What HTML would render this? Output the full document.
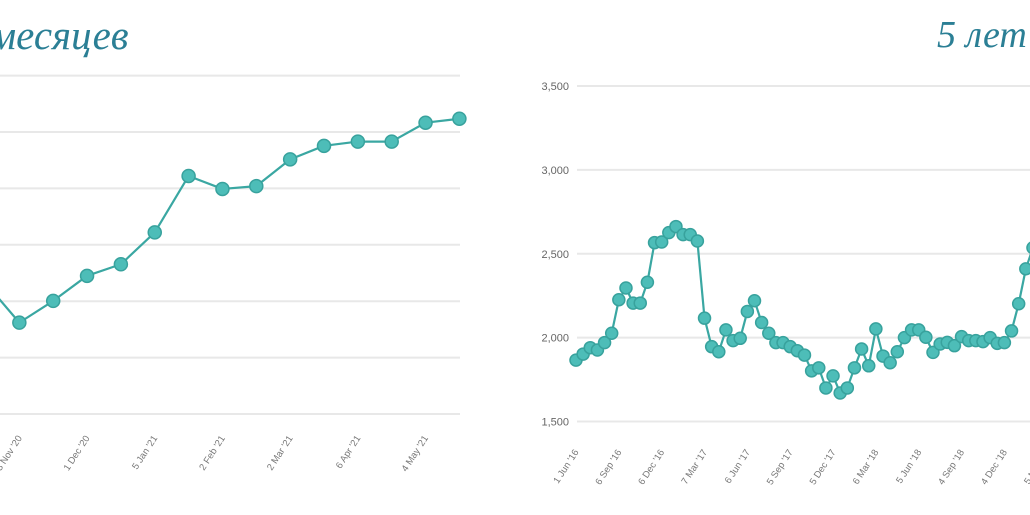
<!DOCTYPE html>
<html><head><meta charset="utf-8"><style>
html,body{margin:0;padding:0;background:#fff;width:1030px;height:515px;overflow:hidden}
svg{display:block}
.title{font-family:"Liberation Serif",serif;font-style:italic;fill:#2b7f95;font-size:38px}
.tick{font-family:"Liberation Sans",sans-serif;font-size:9.5px;fill:#777}
.ytick{font-family:"Liberation Sans",sans-serif;font-size:11px;fill:#666}
</style></head><body>
<svg id="chart" width="1030" height="515">
<text class="title" x="-10" y="49" style="font-size:41px">месяцев</text>
<text class="title" x="937" y="47">5 лет</text>
</svg>
<script>
// Left chart data (6-month view)
const leftValues = [465, 324, 401, 490, 531, 644, 844, 798, 808, 903, 951, 966, 966, 1033, 1047];
const leftLabels = ["", "3 Nov '20", "", "1 Dec '20", "", "5 Jan '21", "", "2 Feb '21", "", "2 Mar '21", "", "6 Apr '21", "", "4 May '21", ""];
const leftTicks = [0, 200, 400, 600, 800, 1000, 1200];
// Right chart data (5-year view)
const rightValues = [1866,1902,1940,1926,1970,2026,2226,2296,2206,2206,2330,2566,2570,2626,2662,2614,2614,2576,2116,1946,1916,2046,1982,1996,2156,2220,2090,2026,1970,1970,1946,1922,1896,1802,1820,1700,1772,1670,1700,1820,1932,1832,2052,1890,1850,1916,2000,2046,2046,2002,1912,1962,1972,1952,2006,1982,1982,1976,2000,1966,1970,2040,2202,2410,2536];
const rightLabels = ["1 Jun '16","6 Sep '16","6 Dec '16","7 Mar '17","6 Jun '17","5 Sep '17","5 Dec '17","6 Mar '18","5 Jun '18","4 Sep '18","4 Dec '18","5 Mar '19"];
const rightTicks = [1500, 2000, 2500, 3000, 3500];

const NS = "http://www.w3.org/2000/svg";
const svg = document.getElementById('chart');
function mk(tag, attrs){const e=document.createElementNS(NS,tag);for(const k in attrs)e.setAttribute(k,attrs[k]);svg.appendChild(e);return e;}

function draw(cfg){
  const ys = v => cfg.y0 - (v - cfg.vmin)/(cfg.vmax - cfg.vmin)*(cfg.y0 - cfg.y1);
  const xs = i => cfg.x0 + i*cfg.dx;
  cfg.ticks.forEach(t=>{
    const g = mk('line',{x1:cfg.gx0,x2:cfg.gx1,y1:ys(t),y2:ys(t),stroke:'#e8e8e8','stroke-width':2});
    
    
    if(cfg.showY){
      const tx = mk('text',{x:cfg.gx0-8,y:ys(t)+4,'text-anchor':'end',class:'ytick'});
      tx.textContent = t.toLocaleString('en-US');
      
      
    }
  });
  cfg.labels.forEach((l,k)=>{
    if(!l) return;
    const i = cfg.labelIdx(k);
    const x = xs(i)+3, y = cfg.labelY;
    const tx = mk('text',{x:x,y:y,'text-anchor':'end',class:'tick',transform:`rotate(-57 ${x} ${y})`});
    tx.textContent = l;
    
    
  });
  const pts = cfg.values.map((v,i)=>xs(i)+','+ys(v)).join(' ');
  const pl = mk('polyline',{points:pts,fill:'none',stroke:'#3aa7a2','stroke-width':2.2,'stroke-linejoin':'round'});
  
  
  cfg.values.forEach((v,i)=>{
    const c = mk('circle',{cx:xs(i),cy:ys(v),r:cfg.r,fill:'#4dbdb8',stroke:'#38a29d','stroke-width':1.5});
    
    
  });
}
draw({prefix:'left',values:leftValues,labels:leftLabels,ticks:leftTicks,vmin:0,vmax:1200,y0:414,y1:75.6,
  x0:-14.5,dx:33.85,gx0:-10,gx1:460,showY:false,labelY:438,labelIdx:k=>k,r:6.5});
draw({prefix:'right',values:rightValues,labels:rightLabels,ticks:rightTicks,vmin:1500,vmax:3500,y0:421.5,y1:86,
  x0:576,dx:7.14,gx0:577,gx1:1040,showY:true,labelY:452,labelIdx:k=>k*6,r:6});
</script>
</body></html>
